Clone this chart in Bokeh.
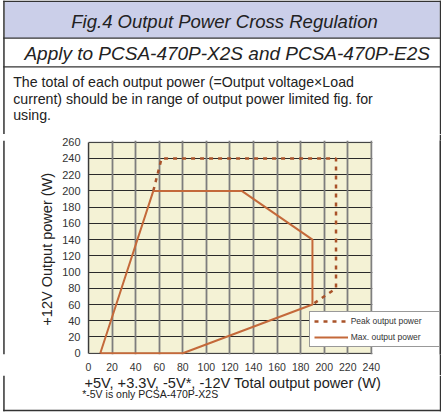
import math
from bokeh.plotting import figure
from bokeh.layouts import column, row
from bokeh.models import Range1d, FixedTicker, Label, BoxAnnotation, Legend, LegendItem
from bokeh.embed import file_html
from bokeh.resources import INLINE

# ---- texts ----
title_text = "Fig.4 Output Power Cross Regulation"
subtitle_text = "Apply to PCSA-470P-X2S and PCSA-470P-E2S"
body_lines = [
    "The total of each output power (=Output voltage\u00d7Load",
    "current) should be in range of output power limited fig. for",
    "using.",
]
x_title = "+5V, +3.3V, -5V*, -12V Total output power (W)"
y_title = "+12V Output power (W)"
note_text = "*-5V is only PCSA-470P-X2S"

# ---- ticks ----
x_ticks = [0, 20, 40, 60, 80, 100, 120, 140, 160, 180, 200, 220, 240]
y_ticks = [0, 20, 40, 60, 80, 100, 120, 140, 160, 180, 200, 220, 240, 260]

# ---- series ----
peak_label = "Peak output power"
peak_x = [55, 62, 210, 210, 190]
peak_y = [200, 240, 240, 80, 60]

max_label = "Max. output power"
max_x = [10, 55, 130, 190, 190, 80, 10]
max_y = [0, 200, 200, 140, 60, 0, 0]

FONT = "Liberation Sans"
TXT = "#222222"
EDGE = "#333333"
BAND = "#cbcfe9"
BEIGE = "#f4f2d5"
BASE_SHIFT = 0.38  # label anchor sits this many em above the drawn baseline


def blank(w, h, fill="white"):
    f = figure(width=w, height=h, x_range=Range1d(0, w), y_range=Range1d(0, h),
               min_border=0, x_axis_location=None, y_axis_location=None,
               toolbar_location=None, output_backend="svg",
               background_fill_color=fill, border_fill_color=fill,
               outline_line_color=None)
    f.grid.visible = False
    return f


def rect(f, h, left, right, top, bottom, color):
    # top/bottom measured downward from the top of figure f
    f.add_layout(BoxAnnotation(left=left, right=right, top=h - top, bottom=h - bottom,
                               fill_color=color, fill_alpha=1, line_color=None))


def text(f, h, s, x, y, size, style="normal", align="left"):
    # y = wanted baseline, measured downward from the top of figure f
    f.add_layout(Label(x=x, y=h - (y - BASE_SHIFT * size), text=s, text_font=FONT,
                       text_font_size="%gpx" % size, text_font_style=style,
                       text_align=align, text_baseline="alphabetic", text_color=TXT))


# ---------------- header (page y 0..134) ----------------
HH = 134
head = blank(441, HH)
rect(head, HH, 4.2, 439.3, 1.2, 37.4, BAND)
rect(head, HH, 2.7, 441, 0, 1.5, EDGE)
rect(head, HH, 2.7, 441, 37.1, 38.3, EDGE)
rect(head, HH, 2.7, 441, 65.7, 66.9, EDGE)
rect(head, HH, 2.7, 4.2, 0, HH, EDGE)
rect(head, HH, 439.3, 441, 0, HH, EDGE)
text(head, HH, title_text, 224, 28.5, 18.5, style="italic", align="center")
text(head, HH, subtitle_text, 226.7, 60, 19, style="italic", align="center")
for line, base in zip(body_lines, [86.7, 103.7, 120.3]):
    text(head, HH, line, 12.7, base, 14.2)

# ---------------- chart row (page y 134..375) ----------------
HC = 241
left = blank(59, HC)
rect(left, HC, 2.7, 4.2, 0, HC, EDGE)
left.add_layout(Label(x=46, y=HC - (256.5 - 134), text=y_title, text_font=FONT,
                      text_font_size="14.5px", text_align="center",
                      text_baseline="middle", text_color=TXT, angle=math.pi / 2))

right = blank(2, HC, fill=EDGE)

p = figure(width=380, height=HC, x_range=Range1d(0, 297.8), y_range=Range1d(-1.6, 262.1),
           min_border_left=28, min_border_right=0, min_border_top=6,
           min_border_bottom=21, toolbar_location=None, output_backend="svg",
           background_fill_color="white", border_fill_color="white",
           outline_line_color=None)

xg = p.xgrid[0]
yg = p.ygrid[0]
xg.grid_line_color = "#7d7d7d"
xg.grid_line_width = 1.8
yg.grid_line_color = "#2a2a2a"
yg.grid_line_width = 1.2

beige = BoxAnnotation(left=x_ticks[0], right=x_ticks[-1], bottom=y_ticks[0], top=y_ticks[-1],
                      fill_color=BEIGE, fill_alpha=1, line_color=None, level="underlay")
cover = BoxAnnotation(left=x_ticks[-1] + 0.85, right=297.8, bottom=-1.6, top=262.1,
                      fill_color="white", fill_alpha=1, line_color=None, level="underlay")
border = BoxAnnotation(left=x_ticks[0], right=x_ticks[-1], bottom=y_ticks[0], top=y_ticks[-1],
                       fill_alpha=0, line_color="#858585", line_width=2, level="underlay")
others = [r for r in p.center if r is not xg and r is not yg]
p.center = [beige, yg, xg, cover, border] + others

p.xaxis.ticker = FixedTicker(ticks=x_ticks)
p.yaxis.ticker = FixedTicker(ticks=y_ticks)
for ax in (p.xaxis, p.yaxis):
    ax.major_tick_in = 0
    ax.major_tick_out = 0
    ax.minor_tick_in = 0
    ax.minor_tick_out = 0
    ax.major_label_text_font = FONT
    ax.major_label_text_color = "#333333"
p.xaxis.axis_line_color = None
p.yaxis.axis_line_color = "#3a3a3a"
p.yaxis.axis_line_width = 1.4
p.yaxis.bounds = (0, 260)
p.xaxis.major_label_text_font_size = "10.5px"
p.yaxis.major_label_text_font_size = "11px"
p.xaxis.major_label_standoff = 8
p.yaxis.major_label_standoff = 8

r_peak = p.line(peak_x, peak_y, line_color="#a9532a", line_width=2.5, line_dash="4 5")
r_max = p.line(max_x, max_y, line_color="#c4693a", line_width=2)

legend = Legend(items=[LegendItem(label=peak_label, renderers=[r_peak]),
                       LegendItem(label=max_label, renderers=[r_max])],
                location=(220.7, 6.7), orientation="vertical", padding=4, spacing=6,
                glyph_width=34, glyph_height=10, label_height=10, label_width=86,
                label_standoff=3, margin=0, border_line_color=EDGE,
                border_line_width=1, background_fill_color="white",
                background_fill_alpha=1, label_text_font_size="8.5px",
                label_text_font=FONT, label_text_color="#333333")
p.add_layout(legend)

# ---------------- bottom (page y 375..412) ----------------
HB = 37
TOP_B = 375
bot = blank(441, HB)
rect(bot, HB, 2.7, 4.2, 0, 35.8, EDGE)
rect(bot, HB, 439.3, 441, 0, 35.8, EDGE)
rect(bot, HB, 2.7, 441, 34.3, 35.8, EDGE)
text(bot, HB, x_title, 232.3, 388.4 - TOP_B, 14.6, align="center")
text(bot, HB, note_text, 81.7, 397.6 - TOP_B, 10.5)

layout = column(head, row(left, p, right), bot)

open("out.html", "w").write(file_html(layout, INLINE))
